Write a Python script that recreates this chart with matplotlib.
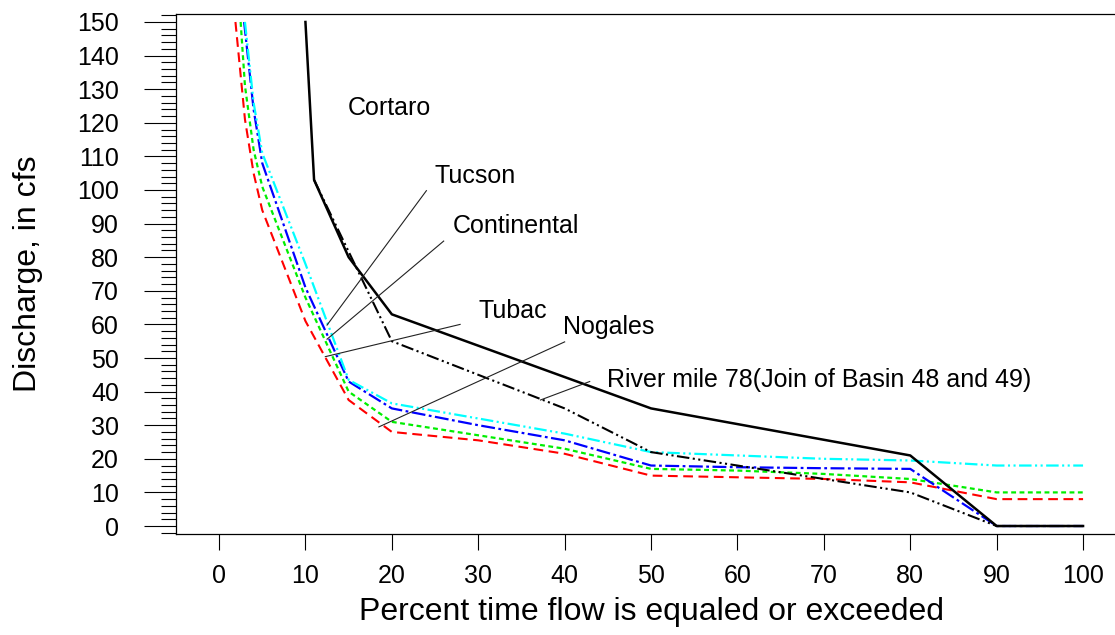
import matplotlib.pyplot as plt
from matplotlib.ticker import MultipleLocator

plt.rcParams['font.family'] = ['Liberation Sans', 'DejaVu Sans']
plt.rcParams['lines.scale_dashes'] = False

# flow duration curves: percent time exceeded vs discharge (cfs)
nogales_x = [1.9, 3, 4, 5, 10, 15, 20, 30, 40, 50, 60, 70, 80, 90, 100]
nogales_q = [150, 121, 105, 94, 61, 37.5, 28, 25.5, 21.5, 15, 14.5, 14, 13, 8, 8]

tubac_x = [2.5, 3, 4, 5, 10, 15, 20, 30, 40, 50, 60, 70, 80, 90, 100]
tubac_q = [150, 131, 112, 101, 68, 40, 31, 27, 23, 17, 16.5, 15.5, 14, 10, 10]

continental_x = [2.9, 4, 5, 10, 15, 20, 30, 40, 50, 60, 70, 80, 90, 100]
continental_q = [150, 124, 108, 71, 43, 35, 30, 25.5, 18, 17.5, 17.2, 17, 0, 0]

tucson_x = [3, 4, 5, 10, 15, 20, 30, 40, 50, 60, 70, 80, 90, 100]
tucson_q = [150, 126, 111, 78, 43.5, 36.5, 32, 27.5, 22, 21, 20, 19.5, 18, 18]

cortaro_x = [10, 11, 15, 20, 50, 80, 90, 100]
cortaro_q = [150, 103, 80, 63, 35, 21, 0, 0]

rm78_x = [11, 20, 40, 50, 80, 90, 100]
rm78_q = [103, 55, 35, 22, 10, 0, 0]

# label text, text anchor (x, y), leader line from / to
labels = ['Cortaro', 'Tucson', 'Continental', 'Tubac', 'Nogales',
          'River mile 78(Join of Basin 48 and 49)']
label_pos = [(14.9, 124.4), (24.9, 104.2), (27.0, 89.3), (30.0, 64.0),
             (39.8, 59.2), (44.9, 43.5)]
leader_start = [None, (24.0, 99.8), (26.0, 84.8), (27.9, 60.0),
                (40.0, 54.8), (42.9, 43.0)]
leader_end = [None, (12.5, 59.8), (12.5, 55.6), (12.3, 50.4),
              (18.5, 29.5), (37.2, 37.5)]

fig = plt.figure(figsize=(11.15, 6.35), dpi=100)
ax = fig.add_axes([0.1577, 0.1584, 0.8524, 0.8202])

ax.plot(nogales_x, nogales_q, color='#ff0000', lw=1.5, dashes=(7, 4))
ax.plot(tubac_x, tubac_q, color='#00ee00', lw=1.6, dashes=(3.5, 2.5))
ax.plot(continental_x, continental_q, color='#0000ff', lw=1.6,
        dashes=(10, 2.5, 2, 2.5))
ax.plot(tucson_x, tucson_q, color='#00ffff', lw=1.6,
        dashes=(9, 2.5, 1.5, 2.5, 1.5, 2.5))
ax.plot(rm78_x, rm78_q, color='black', lw=1.5,
        dashes=(9, 2.5, 1.5, 2.5, 1.5, 2.5))
ax.plot(cortaro_x, cortaro_q, color='black', lw=1.8)

for txt, pos, p0, p1 in zip(labels, label_pos, leader_start, leader_end):
    ax.text(pos[0], pos[1], txt, fontsize=18, ha='left', va='center')
    if p0 is not None:
        ax.plot([p0[0], p1[0]], [p0[1], p1[1]], color='#222222', lw=0.8)

ax.set_xlim(-5, 105)
ax.set_ylim(-2.5, 152.5)
ax.set_xticks(range(0, 101, 10))
ax.yaxis.set_major_locator(MultipleLocator(10))
ax.yaxis.set_minor_locator(MultipleLocator(2))
ax.set_yticks(range(0, 151, 10))

ax.tick_params(axis='x', length=11.5, width=0.8, pad=10, labelsize=18)
ax.tick_params(axis='y', which='major', length=23, width=0.8, pad=18, labelsize=18)
ax.tick_params(axis='y', which='minor', length=10.8, width=0.8)
for s in ax.spines.values():
    s.set_linewidth(0.9)

ax.set_xlabel('Percent time flow is equaled or exceeded', fontsize=23)
ax.set_ylabel('Discharge, in cfs', fontsize=23)
ax.xaxis.set_label_coords(0.5, -0.149)
ax.xaxis.label.set_va('center')
ax.yaxis.set_label_coords(-0.1555, 0.5)
ax.yaxis.label.set_va('center')

fig.savefig('out.png', dpi=100)
plt.close(fig)
